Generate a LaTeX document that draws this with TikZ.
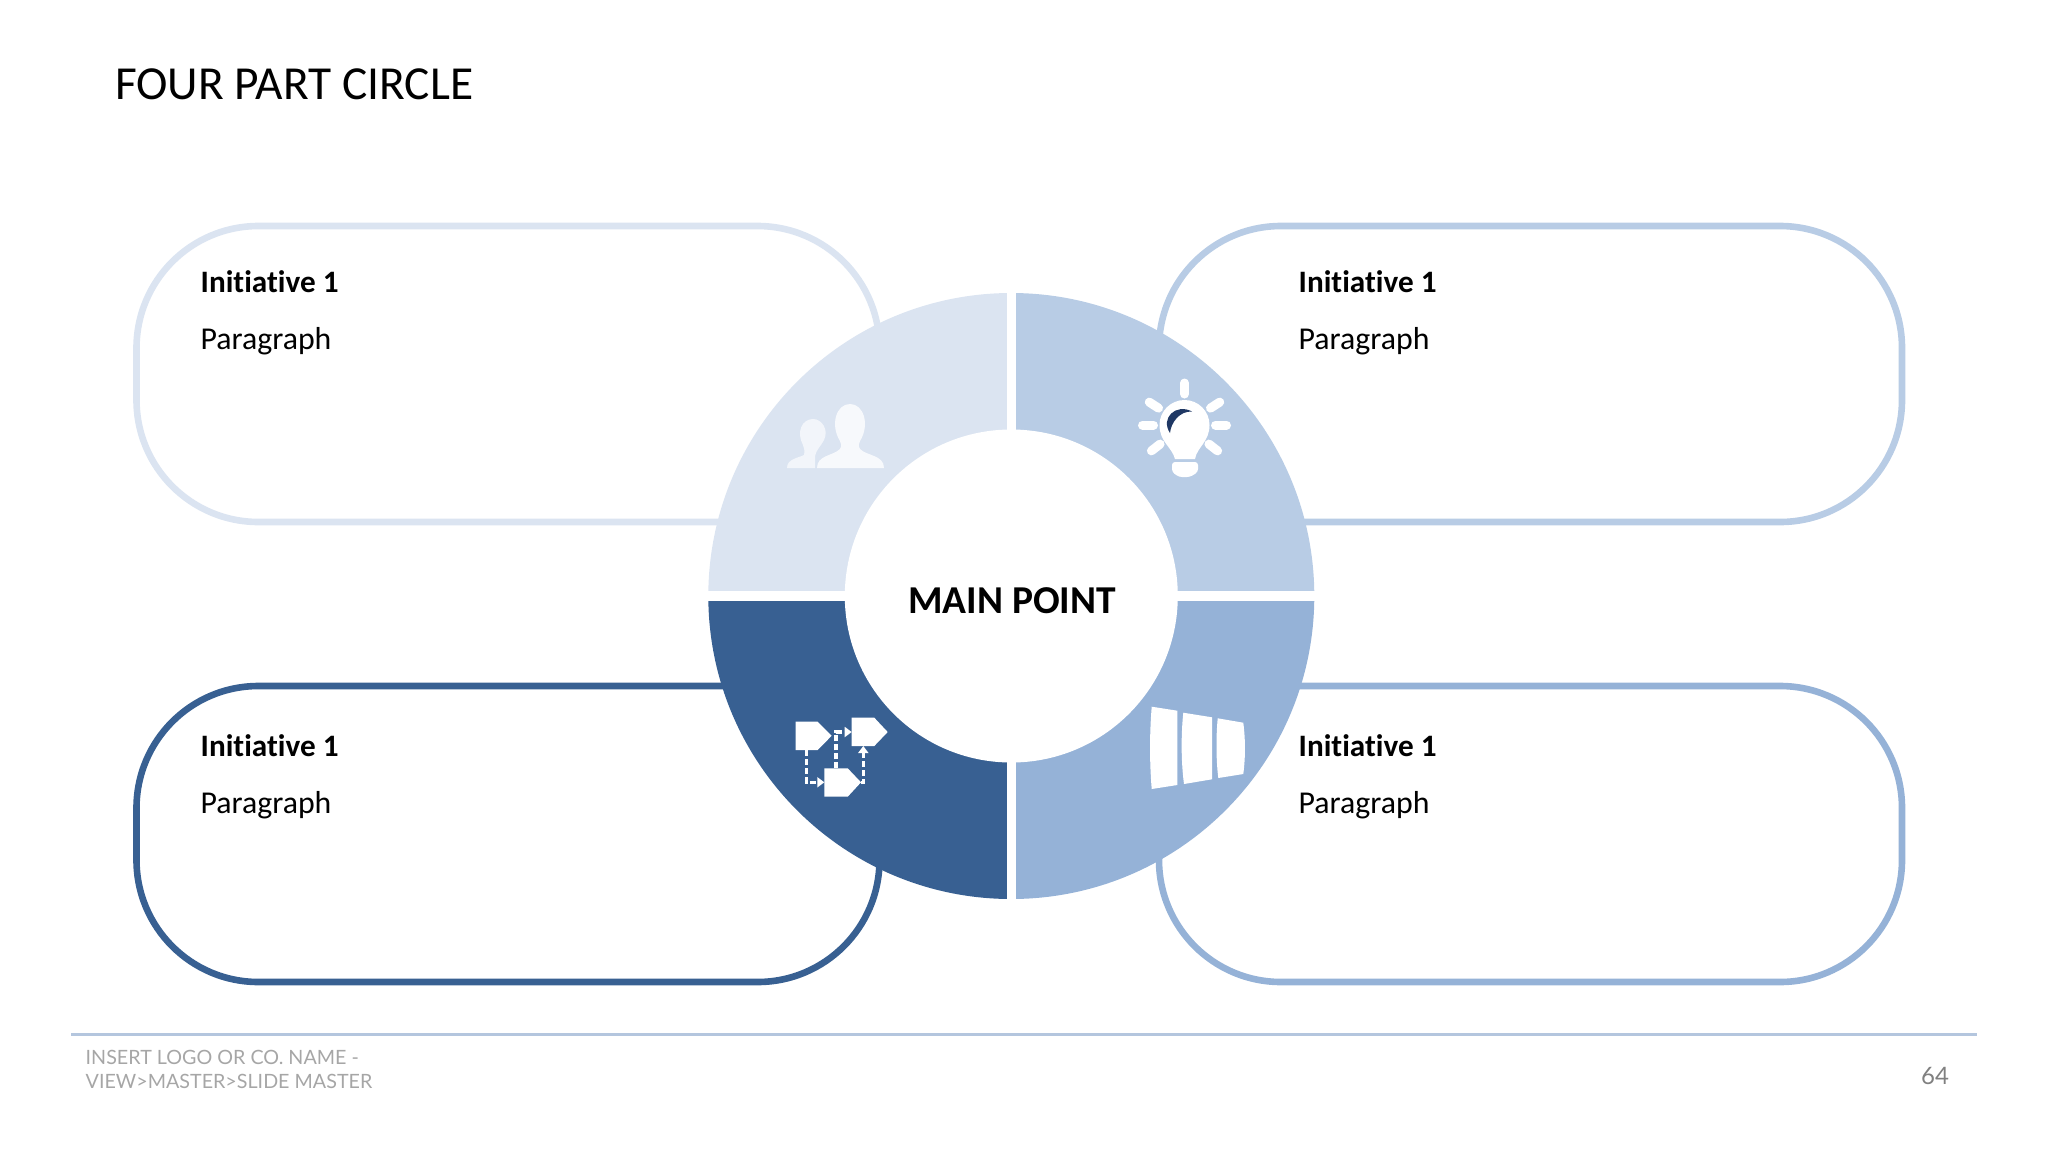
\documentclass[tikz,border=0pt]{standalone}
\usepackage{fontspec}
\setmainfont[Ligatures=NoCommon]{Carlito}
\newfontfamily\footfont{Lato}
\usepackage{xcolor}
\usetikzlibrary{arrows.meta}
\definecolor{pale}{HTML}{DBE4F1}
\definecolor{soft}{HTML}{B8CCE5}
\definecolor{mid}{HTML}{95B2D7}
\definecolor{deep}{HTML}{386092}
\definecolor{ink}{HTML}{1F3864}
\definecolor{rule}{HTML}{B4C6DE}

\begin{document}
\begin{tikzpicture}[x=1pt, y=-1pt]
\tikzset{
	initbox/.style = {rectangle, rounded corners=122pt, line width=6.6pt, minimum width=743pt, minimum height=296pt, inner sep=0pt, fill=white},
	head/.style = {anchor=base west, inner sep=0pt, font=\fontsize{31.2}{37}\selectfont\bfseries},
	para/.style = {anchor=base west, inner sep=0pt, font=\fontsize{31.8}{37}\selectfont},
	foot/.style = {anchor=base west, inner sep=0pt, text=black!35, font=\fontsize{19.7}{24}\selectfont\footfont},
	flow/.style = {white, line width=3.2pt, dash pattern=on 6pt off 3pt},
	flowtip/.style = {-{Triangle[length=7pt, width=10pt]}},
}
\useasboundingbox (0,0) rectangle (2048,1152);
\node[anchor=base west, inner sep=0pt, font=\fontsize{47.4}{56}\selectfont] (title) at (115,99.5) {FOUR PART CIRCLE};
% boxes behind the ring
\node[initbox, draw=pale] (boxtl) at (508,374) {};
\node[initbox, draw=soft] (boxtr) at (1530.5,374) {};
\node[initbox, draw=deep] (boxbl) at (508,834) {};
\node[initbox, draw=mid] (boxbr) at (1530.5,834) {};
\node[head] (headtl) at (200.5,292.5) {Initiative 1};
\node[para] (paratl) at (200.5,349.5) {Paragraph};
\node[head] (headtr) at (1298.5,292.5) {Initiative 1};
\node[para] (paratr) at (1298.5,349.5) {Paragraph};
\node[head] (headbl) at (200.5,756.5) {Initiative 1};
\node[para] (parabl) at (200.5,813.5) {Paragraph};
\node[head] (headbr) at (1298.5,756.5) {Initiative 1};
\node[para] (parabr) at (1298.5,813.5) {Paragraph};
% ring
\coordinate (c) at (1011.3,596);
\foreach \ang/\col in {0/mid, 90/deep, 180/pale, 270/soft}
	\fill[\col] (c) -- ++(\ang:303) arc[start angle=\ang, delta angle=90, radius=303] -- cycle;
\draw[white, line width=9.5pt] (c) ++(-310,0) -- ++(620,0) (c) ++(0,-310) -- ++(0,620);
\node[circle, fill=white, minimum size=333pt, inner sep=0pt] (main) at (c) {};
\node[anchor=base, inner sep=0pt, font=\fontsize{39.5}{46}\selectfont\bfseries] (mainlabel) at (1012,613.5) {MAIN POINT};
% people
\fill[white, opacity=.65] (787,468) .. controls (787,459) and (798,458) .. (804,455) .. controls (805,451) and (804,448) .. (803,445) .. controls (796,432) and (802,419) .. (813,419) .. controls (822,419) and (829,430) .. (824,440) .. controls (821,446) and (816,450) .. (815,456) -- (815,468) -- cycle;
\fill[white, opacity=.8] (817,468) .. controls (817,455) and (833,456) .. (840,449) .. controls (842,446) and (841,443) .. (840,441) .. controls (830,425) and (836,404) .. (850,404) .. controls (864,404) and (870,425) .. (860,441) .. controls (859,443) and (858,446) .. (860,449) .. controls (867,456) and (884,455) .. (884,468) -- cycle;
% bulb
\coordinate (bulb) at (1184.5,425);
\foreach \ang in {0,33,90,147,180,218,322}
	\draw[white, line width=9pt, line cap=round] (bulb) ++(-\ang:31) -- ++(-\ang:11);
\fill[white] (1175,459) .. controls (1172,447) and (1159.5,442) .. (1159.5,425) arc[start angle=180, end angle=360, radius=25] .. controls (1209.5,442) and (1197,447) .. (1195,459) -- cycle;
\fill[white, rounded corners=3pt] (1172,462) -- (1198,462) -- (1198,472) -- (1190,477) -- (1179,477) -- (1172,472) -- cycle;
\fill[ink] (1192,411.5) .. controls (1176,403) and (1160,418) .. (1170,433) .. controls (1171,423) and (1179,411) .. (1192,411.5) -- cycle;
% process
\fill[white] (795.7,721.7) -- (817.7,721.7) -- (831.7,735.7) -- (817.7,750) -- (795.7,750) -- cycle;
\fill[white] (851.7,717.7) -- (874.3,717.7) -- (887.7,732) -- (874.3,746) -- (851.7,746) -- cycle;
\fill[white] (824.3,768.3) -- (847.7,768.3) -- (861,782.3) -- (847.7,796.7) -- (824.3,796.7) -- cycle;
\coordinate (aout) at (806.7,750);
\coordinate (cin) at (824.3,782.3);
\coordinate (ctop) at (836,768.3);
\coordinate (bin) at (851.7,732);
\coordinate (cright) at (861,782.3);
\coordinate (bbot) at (863.3,746);
\draw[flow, flowtip] (aout) |- (cin);
\draw[flow, flowtip] (ctop) |- (bin);
\draw[flow, flowtip] (cright) -| (bbot);
% funnel
\fill[white] (1151.7,706.7) -- (1177.3,710.7) -- (1177.3,785) -- (1151.7,789) .. controls (1149.5,762) and (1149.5,734) .. (1151.7,706.7) -- cycle;
\fill[white] (1183.3,712.7) -- (1212,717.3) -- (1212,779.3) -- (1184,784) .. controls (1181,762) and (1181,734) .. (1183.3,712.7) -- cycle;
\fill[white] (1217.7,718.3) -- (1243.3,722.7) .. controls (1245.5,740) and (1245.5,757) .. (1243.3,774) -- (1218.3,778) .. controls (1216,760) and (1216,736) .. (1217.7,718.3) -- cycle;
% footer
\coordinate (rulel) at (71,1034.5);
\coordinate (ruler) at (1977,1034.5);
\draw[rule, line width=3pt] (rulel) -- (ruler);
\node[foot] (foota) at (85.5,1064) {INSERT LOGO OR CO. NAME -};
\node[foot] (footb) at (85.5,1088) {VIEW>MASTER>SLIDE MASTER};
\node[foot, text=black!50, font=\fontsize{24}{28}\selectfont\footfont] (page) at (1921,1084) {64};
\end{tikzpicture}
\end{document}
